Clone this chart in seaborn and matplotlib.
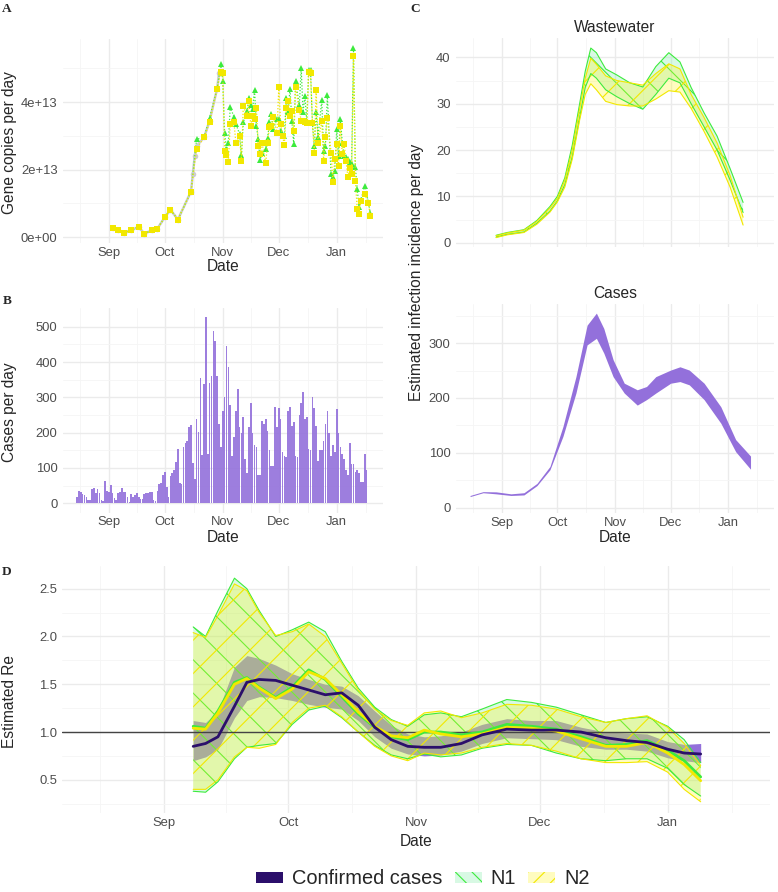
import matplotlib
matplotlib.use("Agg")
import matplotlib.pyplot as plt
from matplotlib.patches import Patch
import seaborn as sns

# all x values are days counted from 1 Sep 2020
month_ticks = [0, 30, 61, 91, 122]
month_labels = ["Sep", "Oct", "Nov", "Dec", "Jan"]
month_mid = [-15.5, 15, 45.5, 76, 106.5, 137.5]

# A: gene copies per day, in units of 1e13
ww_days = [2, 5, 8, 12, 16, 19, 23, 26, 30, 33, 37, 44, 47, 51, 54, 58,
           60, 61, 62, 63, 64, 65, 67, 68, 70, 71, 72, 74, 75, 76, 77, 78, 79, 80, 81, 82,
           84, 85, 86, 87, 88, 90, 91, 92, 93, 94, 95, 96, 97, 98, 99, 100,
           102, 103, 104, 105, 106, 107, 108, 109, 110, 111, 112, 114, 115, 116, 117,
           119, 120, 121, 122, 123, 124, 125, 126, 127, 128, 129, 130, 131, 132, 133, 134, 135,
           137, 139, 140]
ww_n1 = [0.27, 0.2, 0.13, 0.2, 0.31, 0.1, 0.2, 0.25, 0.59, 0.81, 0.52, 1.35, 2.9, 2.95, 3.54, 4.4,
         5.13, 4.62, 3.07, 2.6, 2.8, 3.85, 3.56, 3.36, 3.05, 2.43, 3.4, 3.73, 4.13, 3.9, 3.8, 4.37, 3.3, 2.9, 2.28, 2.5,
         2.6, 2.93, 3.4, 3.64, 3.19, 3.5, 3.5, 3.14, 3.0, 3.0, 4.13, 3.7, 4.4, 3.45, 2.75, 4.62,
         3.9, 5.01, 3.7, 4.18, 3.39, 4.96, 4.96, 3.39, 2.7, 3.7, 2.97, 4.05, 2.55, 2.7, 4.2,
         1.87, 1.77, 1.97, 3.19, 2.4, 3.49, 2.8, 2.41, 2.36, 2.3, 2.21, 2.15, 5.6, 2.08, 1.42, 0.88, 1.1,
         1.52, 1.03, 0.71]
ww_n2 = [0.27, 0.2, 0.13, 0.2, 0.31, 0.1, 0.2, 0.25, 0.59, 0.81, 0.52, 1.35, 2.62, 2.95, 3.4, 4.4,
         4.88, 4.85, 2.55, 2.43, 2.21, 3.34, 3.4, 2.8, 3.0, 2.26, 3.88, 3.6, 4.03, 3.29, 3.59, 3.49, 3.83, 2.7, 2.46, 2.8,
         2.18, 2.8, 3.26, 3.3, 3.56, 3.07, 4.44, 3.34, 3.0, 2.73, 3.83, 4.03, 3.6, 3.73, 3.14, 4.44,
         3.75, 3.44, 3.44, 3.4, 3.38, 4.89, 4.85, 3.39, 2.48, 4.37, 2.8, 3.44, 2.26, 2.95, 3.54,
         2.5, 1.62, 2.3, 2.75, 2.11, 3.29, 2.46, 2.75, 2.25, 1.77, 2.06, 1.87, 5.35, 1.67, 0.84, 0.69, 1.08,
         1.28, 1.0, 0.61]
ww_gray_days = [2, 5, 8, 12, 16, 19, 23, 26, 30, 33, 37, 44, 45, 46, 47, 51, 54, 58, 59, 60]
ww_gray = [0.27, 0.2, 0.13, 0.2, 0.31, 0.1, 0.2, 0.25, 0.59, 0.81, 0.52, 1.35, 1.87, 2.4, 2.7,
           2.95, 3.45, 4.4, 4.85, 4.9]

# B: confirmed cases per day, from 15 Aug
case_start = -17
cases = [17, 36, 33, 26, 24, 19, 9, 9, 40, 42, 28, 40, 30, 9, 7, 63, 36, 33, 52, 28,
         14, 9, 28, 33, 42, 33, 33, 19, 4, 26, 19, 24, 30, 19, 11, 11, 26, 28, 30, 31,
         33, 9, 6, 36, 54, 58, 80, 90, 47, 19, 77, 85, 94, 116, 153, 58, 54, 160, 172, 175,
         217, 222, 113, 69, 240, 202, 354, 137, 337, 526,
         140, 340, 360, 487, 460, 360, 225, 160, 262, 300, 445, 385, 278, 133, 188, 260, 323,
         215, 200, 245, 125, 85, 215, 285,
         200, 165, 160, 80, 80, 232, 225, 240,
         205, 150, 105, 105, 272, 215, 270,
         240, 145, 135, 130, 260, 272, 220,
         230, 135, 130, 250, 285, 315, 240,
         245, 155, 150, 300, 270,
         220, 120, 150, 152, 175, 225, 262,
         200, 135, 165, 145, 268, 200, 160, 140,
         125, 95, 80, 170, 110, 110, 90, 95, 85, 60, 60, 140, 95]
case_days = list(range(case_start, case_start + len(cases)))

# C: estimated infection incidence
inc_ww_days = [-3, 3, 12, 19, 26, 30, 34, 38, 42, 45, 48, 51, 56, 62, 69, 76, 83, 90, 96, 102, 109, 116, 123, 130]
inc_n1_hi = [1.6, 2.2, 2.8, 4.8, 7.8, 10.0, 14.0, 21.0, 30.0, 37.0, 42.0, 41.0, 37.5, 36.2, 34.5, 33.6,
             38.0, 41.0, 39.0, 33.5, 28.0, 23.0, 16.0, 8.7]
inc_n1_lo = [1.2, 1.8, 2.3, 4.2, 6.8, 9.0, 12.5, 18.5, 27.0, 33.5, 36.5, 35.5, 33.0, 31.5, 30.0, 28.8,
             32.0, 35.5, 34.5, 30.0, 25.0, 20.0, 13.5, 6.5]
inc_n2_hi = [1.5, 2.1, 2.7, 4.6, 7.5, 9.6, 13.5, 20.0, 29.0, 35.5, 39.8, 38.5, 36.0, 35.0, 34.5, 34.0,
             36.5, 38.6, 37.5, 32.0, 27.0, 21.5, 14.5, 5.5]
inc_n2_lo = [1.1, 1.7, 2.2, 4.0, 6.6, 8.8, 12.0, 18.0, 26.5, 32.0, 34.3, 33.0, 30.5, 29.8, 29.5, 29.5,
             31.0, 32.8, 32.5, 29.0, 24.0, 18.5, 12.0, 3.8]
inc_cases_days = [-17, -10, -3, 5, 12, 19, 26, 33, 40, 46, 51, 55, 60, 66, 73, 78, 83, 91, 96, 101, 109, 118, 126, 134]
inc_cases_hi = [22, 29, 28.6, 25, 27, 44, 75, 148, 239, 333, 355, 327, 270, 227, 215, 221, 239, 251, 257, 251, 227, 184, 124, 94]
inc_cases_lo = [20, 27, 25, 22, 23, 40, 69, 130, 209, 297, 309, 282, 239, 209, 187, 197, 209, 227, 230, 224, 197, 154, 102, 70]

# D: estimated Re
re_days = [7, 10, 13, 17, 20, 23, 27, 31, 35, 39, 43, 47, 51, 55, 59, 63, 67, 72, 77, 83, 89, 95, 101, 107, 112, 117, 122, 126, 130]
re_n1_hi = [2.1, 2.0, 2.27, 2.61, 2.5, 2.27, 2.0, 2.07, 2.15, 2.05, 1.74, 1.46, 1.26, 1.13, 1.06, 1.18, 1.2, 1.16, 1.24, 1.34,
            1.31, 1.26, 1.18, 1.1, 1.14, 1.16, 1.06, 0.92, 0.68]
re_n1_lo = [0.38, 0.37, 0.48, 0.72, 0.84, 0.86, 0.88, 1.08, 1.23, 1.27, 1.15, 1.0, 0.86, 0.76, 0.72, 0.77, 0.74, 0.76, 0.83, 0.87,
            0.86, 0.78, 0.72, 0.70, 0.72, 0.72, 0.62, 0.45, 0.33]
re_n2_hi = [2.04, 1.99, 2.22, 2.55, 2.48, 2.25, 2.01, 2.05, 2.13, 2.0, 1.72, 1.44, 1.24, 1.12, 1.07, 1.2, 1.22, 1.15, 1.2, 1.29,
            1.28, 1.24, 1.16, 1.1, 1.14, 1.17, 1.05, 0.88, 0.65]
re_n2_lo = [0.40, 0.40, 0.5, 0.74, 0.84, 0.83, 0.87, 1.1, 1.25, 1.28, 1.16, 1.0, 0.85, 0.75, 0.70, 0.78, 0.76, 0.78, 0.84, 0.88,
            0.86, 0.8, 0.72, 0.68, 0.68, 0.69, 0.58, 0.40, 0.27]
re_n1 = [1.06, 1.04, 1.22, 1.52, 1.57, 1.47, 1.36, 1.47, 1.65, 1.55, 1.37, 1.19, 1.05, 0.95, 0.92, 1.0, 1.0, 0.97, 1.0, 1.08,
         1.06, 1.03, 0.95, 0.86, 0.87, 0.91, 0.81, 0.70, 0.53]
re_n2 = [1.04, 1.03, 1.20, 1.50, 1.56, 1.46, 1.35, 1.45, 1.63, 1.56, 1.39, 1.21, 1.06, 0.96, 0.94, 1.02, 0.98, 0.95, 0.98, 1.05,
         1.04, 1.01, 0.93, 0.85, 0.85, 0.89, 0.78, 0.66, 0.49]
re_cc = [0.85, 0.88, 0.95, 1.27, 1.52, 1.55, 1.54, 1.49, 1.44, 1.39, 1.41, 1.28, 1.05, 0.92, 0.85, 0.84, 0.84, 0.88, 0.97, 1.03,
         1.02, 1.02, 1.0, 0.94, 0.91, 0.89, 0.82, 0.78, 0.77]
re_cc_lo = [0.70, 0.74, 0.82, 1.15, 1.33, 1.37, 1.36, 1.33, 1.29, 1.26, 1.24, 1.12, 0.95, 0.83, 0.77, 0.75, 0.76, 0.80, 0.88, 0.94,
            0.93, 0.92, 0.85, 0.82, 0.82, 0.80, 0.73, 0.70, 0.68]
re_cc_hi = [1.12, 1.10, 1.22, 1.68, 1.80, 1.77, 1.70, 1.61, 1.55, 1.50, 1.48, 1.38, 1.22, 1.07, 0.98, 0.95, 0.96, 1.00, 1.08, 1.14,
            1.12, 1.12, 1.05, 1.00, 0.99, 0.98, 0.90, 0.87, 0.88]

N1_COL = "#3DEB3D"
N2_COL = "#F2E800"
N1_FILL = (0.45, 0.92, 0.62, 0.28)
N2_FILL = (1.0, 0.96, 0.1, 0.28)
PURPLE = "#9370DB"
DARK = "#2B0F6B"

sns.set_theme(style="white")
plt.rcParams["font.family"] = ["Liberation Sans", "DejaVu Sans"]
plt.rcParams["hatch.linewidth"] = 0.4

W, H = 778, 892
fig = plt.figure(figsize=(W / 200, H / 200), dpi=200)
fig.patch.set_facecolor("white")


def box(l, t, r, b):
    return fig.add_axes([l / W, 1 - b / H, (r - l) / W, (b - t) / H])


def text(x, y, s, size=5.6, **kw):
    fig.text(x / W, 1 - y / H, s, ha="center", va="center", fontsize=size, **kw)


def style(ax, ylim, yticks, ylabels, yminor, xlabels=True):
    ax.set_xlim(-24.8, 146.8)
    ax.set_ylim(*ylim)
    ax.set_xticks(month_ticks, month_labels if xlabels else [""] * len(month_ticks))
    ax.set_xticks(month_mid, minor=True)
    ax.set_yticks(yticks, ylabels)
    ax.set_yticks(yminor, minor=True)
    ax.grid(True, which="major", color="#EBEBEB", lw=0.5)
    ax.grid(True, which="minor", color="#F5F5F5", lw=0.3)
    ax.tick_params(which="both", length=0, labelsize=4.7, labelcolor="#4D4D4D")
    ax.tick_params(axis="x", pad=1.3)
    ax.tick_params(axis="y", pad=1.8)
    ax.set_xlabel("")
    ax.set_ylabel("")
    ax.set_axisbelow(True)
    ax.set_facecolor("white")
    for s in ax.spines.values():
        s.set_visible(False)


def band(ax, x, lo, hi, fill, col, hatch):
    ax.fill_between(x, lo, hi, facecolor=fill, edgecolor=col, hatch=hatch, linewidth=0)
    sns.lineplot(x=x, y=hi, color=col, lw=0.4, ax=ax)
    sns.lineplot(x=x, y=lo, color=col, lw=0.4, ax=ax)


# ---- A
axA = box(62.5, 38.7, 383, 243)
sns.lineplot(x=ww_gray_days, y=ww_gray, color="#CDCDCD", lw=0.9, marker="o",
             markersize=2.0, markeredgewidth=0, ax=axA)
sns.lineplot(x=ww_days, y=ww_n1, color=N1_COL, lw=0.45, linestyle=(0, (1, 1.5)), marker="^",
             markersize=2.4, markeredgewidth=0, ax=axA)
sns.lineplot(x=ww_days, y=ww_n2, color=N2_COL, lw=0.45, linestyle=(0, (1, 1.5)), marker="s",
             markersize=1.9, markeredgewidth=0, ax=axA)
style(axA, (-0.175, 5.875), [0, 2, 4], ["0e+00", "2e+13", "4e+13"], [1, 3, 5])

# ---- B
axB = box(62.5, 308.2, 383, 512.6)
sns.histplot(x=case_days, weights=cases, discrete=True, shrink=0.88, color=PURPLE,
             alpha=0.9, edgecolor="none", linewidth=0, ax=axB)
style(axB, (-26.3, 552.3), [0, 100, 200, 300, 400, 500],
      ["0", "100", "200", "300", "400", "500"], [50, 150, 250, 350, 450])

# ---- C
axC1 = box(455.6, 38.1, 774.3, 247.1)
band(axC1, inc_ww_days, inc_n1_lo, inc_n1_hi, N1_FILL, N1_COL, "\\\\")
band(axC1, inc_ww_days, inc_n2_lo, inc_n2_hi, N2_FILL, N2_COL, "//")
style(axC1, (-0.95, 44.15), [0, 10, 20, 30, 40], ["0", "10", "20", "30", "40"],
      [5, 15, 25, 35], xlabels=False)

axC2 = box(455.6, 303.8, 774.3, 513)
axC2.fill_between(inc_cases_days, inc_cases_lo, inc_cases_hi, color=PURPLE, linewidth=0)
style(axC2, (-10, 372), [0, 100, 200, 300], ["0", "100", "200", "300"], [50, 150, 250, 350])

# ---- D
axD = box(62, 566, 770, 813)
axD.fill_between(re_days, re_cc_lo, re_cc_hi, color=PURPLE, linewidth=0)
band(axD, re_days, re_n1_lo, re_n1_hi, N1_FILL, N1_COL, "\\\\")
band(axD, re_days, re_n2_lo, re_n2_hi, N2_FILL, N2_COL, "//")
axD.axhline(1.0, color="#444444", lw=0.5)
sns.lineplot(x=re_days, y=re_n1, color=N1_COL, lw=1.0, ax=axD)
sns.lineplot(x=re_days, y=re_n2, color=N2_COL, lw=1.0, ax=axD)
sns.lineplot(x=re_days, y=re_cc, color=DARK, lw=1.0, ax=axD)
style(axD, (0.1525, 2.7375), [0.5, 1.0, 1.5, 2.0, 2.5], ["0.5", "1.0", "1.5", "2.0", "2.5"],
      [0.25, 0.75, 1.25, 1.75, 2.25])

# ---- titles and labels
text(10, 143, "Gene copies per day", rotation=90)
text(223, 267, "Date")
text(10, 412, "Cases per day", rotation=90)
text(223, 537, "Date")
text(417, 272, "Estimated infection incidence per day", rotation=90)
text(615, 537, "Date")
text(615, 27, "Wastewater")
text(615, 293, "Cases")
text(10, 702, "Estimated Re", rotation=90)
text(416, 842, "Date")
for x, y, s in [(7, 9, "A"), (7, 301, "B"), (415, 9, "C"), (7, 572, "D")]:
    text(x, y, s, size=4.8, family="Liberation Serif", weight="bold")

handles = [Patch(facecolor=DARK, edgecolor="none", label="Confirmed cases"),
           Patch(facecolor=N1_FILL, edgecolor=N1_COL, hatch="\\\\\\\\", linewidth=0, label="N1"),
           Patch(facecolor=N2_FILL, edgecolor=N2_COL, hatch="////", linewidth=0, label="N2")]
fig.legend(handles=handles, loc="center", bbox_to_anchor=(423 / W, 1 - 879 / H), ncol=3,
           frameon=False, fontsize=7.2, handlelength=1.35, handleheight=0.5,
           handletextpad=0.45, columnspacing=0.6, borderpad=0)

fig.savefig("out.png", dpi=200, facecolor="white")
